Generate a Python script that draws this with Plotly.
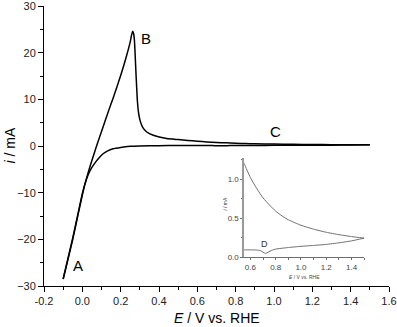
import plotly.graph_objects as go

# Forward (anodic) scan
fwd_E = [-0.1, -0.075, -0.05, -0.025, 0.0, 0.02, 0.04, 0.06, 0.08, 0.1, 0.12, 0.14, 0.16, 0.18, 0.2,
         0.22, 0.24, 0.25, 0.257, 0.263, 0.268, 0.272, 0.28, 0.287, 0.293, 0.301, 0.315, 0.336, 0.37,
         0.44, 0.5, 0.55, 0.6, 0.65, 0.7, 0.75, 0.8, 0.85, 0.9, 1.0, 1.1, 1.2, 1.3, 1.4, 1.5]
fwd_i = [-28.5, -24.1, -19.7, -15.0, -10.2, -7.2, -4.4, -1.8, 0.7, 3.1, 5.5, 7.9, 10.2, 12.6, 15.1,
         17.8, 20.7, 22.3, 23.8, 24.6, 24.0, 22.5, 15.5, 9.8, 7.2, 5.5, 4.0, 3.0, 2.3,
         1.6, 1.38, 1.2, 1.02, 0.88, 0.76, 0.67, 0.59, 0.53, 0.48, 0.41, 0.36, 0.32, 0.29, 0.265, 0.245]

# Reverse (cathodic) scan
rev_E = [1.5, 1.4, 1.3, 1.2, 1.1, 1.0, 0.9, 0.8, 0.77, 0.74, 0.72, 0.7, 0.68, 0.65, 0.6, 0.55, 0.5,
         0.4, 0.3, 0.25, 0.2, 0.16, 0.13, 0.11, 0.09, 0.07, 0.05, 0.03, 0.015, 0.0, -0.025, -0.05,
         -0.075, -0.1]
rev_i = [0.245, 0.21, 0.185, 0.165, 0.152, 0.14, 0.125, 0.105, 0.09, 0.065, 0.05, 0.065, 0.085, 0.093,
         0.095, 0.095, 0.09, 0.07, 0.0, -0.08, -0.3, -0.6, -1.1, -1.6, -2.4, -3.4, -4.6, -6.2, -8.0,
         -10.5, -15.2, -20.0, -24.3, -28.5]

x_ticks = [-0.2, 0.0, 0.2, 0.4, 0.6, 0.8, 1.0, 1.2, 1.4, 1.6]
y_ticks = [-30, -20, -10, 0, 10, 20, 30]
inset_x_ticks = [0.6, 0.8, 1.0, 1.2, 1.4]
inset_y_ticks = [0.0, 0.5, 1.0]

FONT = "Liberation Sans, Arial, sans-serif"
INSET = "#6e6e6e"

fig = go.Figure()
for E, i in [(fwd_E, fwd_i), (rev_E, rev_i)]:
    fig.add_trace(go.Scatter(x=E, y=i, mode="lines",
                             line=dict(color="black", width=1.5, shape="spline", smoothing=0.5),
                             showlegend=False, xaxis="x", yaxis="y"))
    fig.add_trace(go.Scatter(x=E, y=i, mode="lines",
                             line=dict(color=INSET, width=1, shape="spline", smoothing=0.5),
                             showlegend=False, xaxis="x2", yaxis="y2"))

axis_common = dict(showgrid=False, zeroline=False, showline=True, linecolor="black", linewidth=1,
                   ticks="outside", ticklen=5, tickwidth=1, tickcolor="black",
                   ticklabeloverflow="allow", automargin=False,
                   tickfont=dict(family=FONT, size=11, color="#222"))

fig.update_layout(
    width=397, height=327,
    margin=dict(l=44, r=8, t=6, b=41),
    paper_bgcolor="white", plot_bgcolor="white",
    xaxis=dict(range=[-0.2, 1.6], tickvals=x_ticks, ticktext=[f"{v:.1f}" for v in x_ticks],
               minor=dict(dtick=0.1, tick0=0, ticks="outside", ticklen=3, tickcolor="black"),
               **axis_common),
    yaxis=dict(range=[-30, 30], tickvals=y_ticks,
               minor=dict(dtick=5, tick0=0, ticks="outside", ticklen=3, tickcolor="black"),
               **axis_common),
    xaxis2=dict(domain=[0.58, 0.928], anchor="y2", range=[0.55, 1.5], tickvals=inset_x_ticks,
                ticktext=[f"{v:.1f}" for v in inset_x_ticks],
                showgrid=False, zeroline=False, showline=True, linecolor=INSET, linewidth=1,
                ticks="outside", ticklen=2, tickcolor=INSET, automargin=False,
                minor=dict(dtick=0.1, tick0=0, ticks="outside", ticklen=1.5, tickcolor=INSET),
                tickfont=dict(family=FONT, size=8, color="#444")),
    yaxis2=dict(domain=[0.1025, 0.457], anchor="x2", range=[0, 1.27], tickvals=inset_y_ticks,
                ticktext=["0.0", "0.5", "1.0"],
                showgrid=False, zeroline=False, showline=True, linecolor="#999", linewidth=1.5,
                ticks="outside", ticklen=2, tickcolor=INSET, automargin=False,
                minor=dict(dtick=0.25, tick0=0, ticks="outside", ticklen=1.5, tickcolor=INSET),
                tickfont=dict(family=FONT, size=8, color="#444")),
    font=dict(family=FONT),
)

anns = [
    dict(x=0.5, y=-0.115, xref="paper", yref="paper", text="<i>E</i> / V vs. RHE", showarrow=False,
         font=dict(size=14, color="black"), xanchor="center", yanchor="middle"),
    dict(x=-0.1, y=0.5, xref="paper", yref="paper", text="<i>i</i> / mA", showarrow=False,
         textangle=-90, font=dict(size=14, color="black"), xanchor="center", yanchor="middle"),
    dict(x=-0.021, y=-25.5, xref="x", yref="y", text="A", showarrow=False,
         font=dict(size=15, color="black")),
    dict(x=0.33, y=23.1, xref="x", yref="y", text="B", showarrow=False,
         font=dict(size=15, color="black")),
    dict(x=1.01, y=3.2, xref="x", yref="y", text="C", showarrow=False,
         font=dict(size=15, color="black")),
    dict(x=0.712, y=0.167, xref="x2", yref="y2", text="D", showarrow=False,
         font=dict(size=9, color="#333")),
    dict(x=1.03, y=(286 - 277) / 280, xref="x2", yref="paper", text="<i>E</i> / V vs. RHE",
         showarrow=False, font=dict(size=5, color="#444"), yanchor="middle"),
    dict(x=(224 - 44) / 345, y=(286 - 213) / 280, xref="paper", yref="paper", text="<i>i</i> / mA",
         showarrow=False, textangle=-90, font=dict(size=5, color="#444")),
]
fig.update_layout(annotations=anns)

fig.write_html("out.html", config={"displayModeBar": False},
               post_script="document.body.style.margin='0';document.body.style.overflow='hidden';")
